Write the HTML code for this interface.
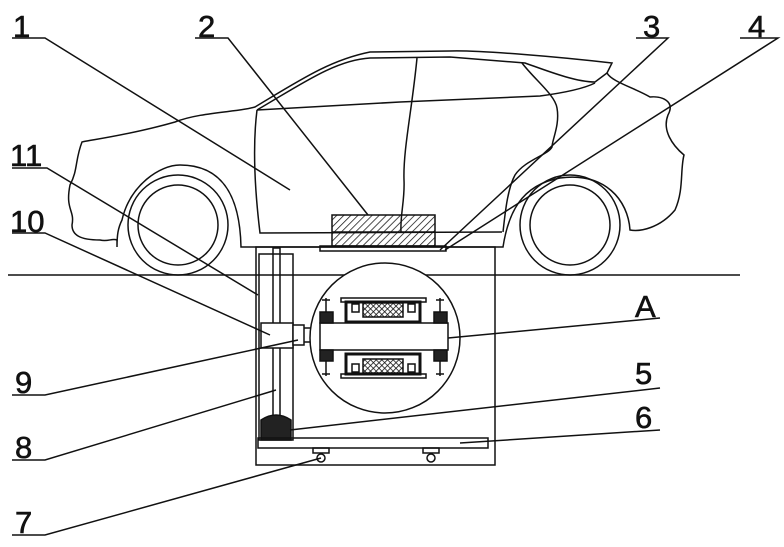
<!DOCTYPE html>
<html><head><style>
html,body{margin:0;padding:0;background:#fff;}
svg{display:block;}
text{font-family:"Liberation Sans",sans-serif;font-size:31px;fill:#111;stroke:#111;stroke-width:0.6;}
</style></head><body>
<svg width="784" height="547" viewBox="0 0 784 547" xmlns="http://www.w3.org/2000/svg">
<defs>
<pattern id="hatch" width="5" height="5" patternUnits="userSpaceOnUse" patternTransform="rotate(45)">
<line x1="0" y1="0" x2="0" y2="5" stroke="#111" stroke-width="1.5"/>
</pattern>
<pattern id="mesh" width="4" height="4" patternUnits="userSpaceOnUse" patternTransform="rotate(45)">
<rect width="4" height="4" fill="#fff"/>
<path d="M0 0H4M0 0V4" stroke="#111" stroke-width="1.6"/>
</pattern>
</defs>
<g fill="none" stroke="#111" stroke-width="1.5">
<line x1="8" y1="275" x2="740" y2="275"/>
<path d="M241 247 L503 247 C508 215 520 185 560 178 C605 172 628 200 630 230 C640 232 660 228 675 210 C684 190 680 170 684 155 C672 145 662 130 668 115 C676 100 660 96 650 97 C635 88 612 82 607 73 L612 63 C560 57 480 50 450 51 L370 52 C330 60 300 80 255 107 C240 112 200 112 175 122 C130 135 90 140 82 142 C75 160 78 170 70 185 C65 210 75 210 72 225 C72 235 80 240 100 240 C108 242 112 238 117 240 L117 247 C117 235 118 228 122 220 C130 185 160 165 180 165 C225 165 240 200 241 247 Z"/>
<path d="M257 110 C252 150 256 200 260 233 L502 232"/>
<path d="M257 110 L400 102 L540 96 C570 92 585 88 595 83"/>
<path d="M257 110 C300 85 335 60 370 58 L450 57 L525 63 C545 70 575 82 595 82 L607 73"/>
<path d="M417 58 C412 110 403 150 404 180 C405 200 400 215 401 232"/>
<path d="M522 63 C535 80 555 95 557 108 C560 125 552 140 552 147 C548 155 525 160 515 175 C507 190 505 215 503 232"/>
<circle cx="178" cy="225" r="50"/>
<circle cx="178" cy="225" r="40"/>
<circle cx="570" cy="225" r="50"/>
<circle cx="570" cy="225" r="40"/>
<rect x="332" y="215" width="103" height="31" fill="url(#hatch)"/>
<line x1="332" y1="232" x2="435" y2="232"/>
<rect x="320" y="246" width="126" height="5"/>
<rect x="256" y="247" width="239" height="218"/>
<rect x="259" y="254" width="34" height="186"/>
<rect x="273" y="248" width="7" height="170"/>
<rect x="261" y="323" width="32" height="25" fill="#fff"/>
<rect x="293" y="325" width="11" height="20" fill="#fff"/>
<line x1="304" y1="328" x2="320" y2="328"/>
<line x1="304" y1="342" x2="320" y2="342"/>
<circle cx="385" cy="338" r="75" fill="#fff"/>
<rect x="320" y="323" width="128" height="27" fill="#fff"/>
<g>
<rect x="341" y="298" width="85" height="4"/>
<rect x="346" y="302" width="74" height="20" stroke-width="3"/>
<rect x="363" y="303" width="40" height="14" fill="url(#mesh)"/>
<rect x="341" y="374" width="85" height="4"/>
<rect x="346" y="354" width="74" height="20" stroke-width="3"/>
<rect x="363" y="359" width="40" height="14" fill="url(#mesh)"/>
<rect x="320" y="312" width="13" height="11" fill="#222"/>
<rect x="434" y="312" width="13" height="11" fill="#222"/>
<rect x="320" y="350" width="13" height="11" fill="#222"/>
<rect x="434" y="350" width="13" height="11" fill="#222"/>
<path d="M326 298V312M440 298V312M326 361V376M440 361V376"/>
<path d="M322 300H330M436 300H444M322 374H330M436 374H444"/>
<rect x="352" y="304" width="7" height="8"/><rect x="408" y="304" width="7" height="8"/>
<rect x="352" y="364" width="7" height="8"/><rect x="408" y="364" width="7" height="8"/>
</g>
<path d="M261 440 V420 Q276 410 291 420 V440 Z" fill="#222"/>
<rect x="258" y="438" width="230" height="10"/>
<rect x="313" y="448" width="16" height="5"/>
<circle cx="321" cy="458" r="4"/>
<rect x="423" y="448" width="16" height="5"/>
<circle cx="431" cy="458" r="4"/>
<path d="M12 38H45L290 190"/>
<path d="M195 38H228L368 215"/>
<path d="M636 38H668L440 250"/>
<path d="M740 38H778L445 250"/>
<path d="M12 168H47L258 295"/>
<path d="M12 233H45L270 335"/>
<path d="M448 338L660 318"/>
<path d="M12 395H45L298 340"/>
<path d="M290 430L660 388"/>
<path d="M12 460H45L276 390"/>
<path d="M460 443L660 430"/>
<path d="M12 535H45L321 458"/>
</g>
<text x="13" y="37">1</text>
<text x="198" y="37">2</text>
<text x="643" y="37">3</text>
<text x="748" y="37">4</text>
<text x="10" y="166">11</text>
<text x="10" y="232">10</text>
<text x="635" y="317">A</text>
<text x="15" y="393">9</text>
<text x="635" y="384">5</text>
<text x="15" y="458">8</text>
<text x="635" y="428">6</text>
<text x="15" y="533">7</text>
</svg>
</body></html>
